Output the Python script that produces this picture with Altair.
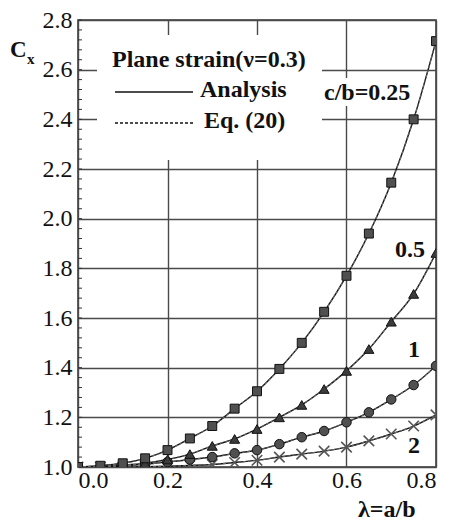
import altair as alt
import pandas as pd

# ---- data ----
lam = [0.00, 0.05, 0.10, 0.15, 0.20, 0.25, 0.30, 0.35, 0.40,
       0.45, 0.50, 0.55, 0.60, 0.65, 0.70, 0.75, 0.80]
cb_025 = [1.000, 1.005, 1.015, 1.035, 1.068, 1.115, 1.165, 1.235, 1.305,
          1.395, 1.500, 1.625, 1.770, 1.940, 2.145, 2.400, 2.715]
cb_05 = [1.000, 1.002, 1.007, 1.015, 1.030, 1.052, 1.085, 1.113, 1.153,
         1.200, 1.250, 1.314, 1.387, 1.475, 1.585, 1.697, 1.862]
cb_1 = [1.000, 1.001, 1.005, 1.011, 1.020, 1.030, 1.040, 1.055, 1.068,
        1.092, 1.120, 1.145, 1.180, 1.220, 1.272, 1.330, 1.407]
cb_2 = [1.000, 1.000, 1.000, 1.001, 1.003, 1.006, 1.010, 1.018, 1.027,
        1.040, 1.052, 1.064, 1.080, 1.105, 1.133, 1.165, 1.210]

series_names = ["0.25", "0.5", "1", "2"]
x_ticks = [0.0, 0.2, 0.4, 0.6, 0.8]
y_ticks = [1.0, 1.2, 1.4, 1.6, 1.8, 2.0, 2.2, 2.4, 2.6, 2.8]
y_minor = [round(1.0 + 0.04 * i, 2) for i in range(46)]

rows = []
for name, vals in zip(series_names, [cb_025, cb_05, cb_1, cb_2]):
    for x, y in zip(lam, vals):
        rows.append({"series": name, "lam": x, "cx": y})
df = pd.DataFrame(rows)

SERIF = "Liberation Serif"

xs = alt.Scale(domain=[0, 0.8], nice=False, zero=False)
ys = alt.Scale(domain=[1.0, 2.8], nice=False, zero=False)

axis_common = dict(labelFont=SERIF, labelFontSize=24, labelColor="#111",
                   domain=False, ticks=False, grid=True, gridColor="#4a4a4a", gridWidth=1.4)
X = alt.X("lam:Q", scale=xs, title=None,
          axis=alt.Axis(values=x_ticks, format=".1f", labelPadding=1, **axis_common))
Y = alt.Y("cx:Q", scale=ys, title=None,
          axis=alt.Axis(values=y_ticks, format=".1f", labelPadding=6, **axis_common))

base = alt.Chart(df)

lines = base.mark_line(color="#111", strokeWidth=1.4, interpolate="monotone", clip=True).encode(
    x=X, y=Y, detail="series:N")
dashed = base.mark_line(color="#666", strokeWidth=1.2, strokeDash=[3, 2],
                        interpolate="monotone", clip=True).encode(
    x=X, y=Y, detail="series:N")

def pts(name, **kw):
    return base.transform_filter(alt.datum.series == name).mark_point(clip=True, **kw).encode(x=X, y=Y)

sq = pts("0.25", shape="square", size=80, filled=True, fill="#505050", stroke="#111", strokeWidth=1, opacity=1)
tri = pts("0.5", shape="triangle-up", size=100, filled=True, fill="#3c3c3c", stroke="#111", strokeWidth=1, opacity=1)
cir = pts("1", shape="circle", size=90, filled=True, fill="#505050", stroke="#111", strokeWidth=1, opacity=1)
crs = pts("2", shape="M -1 -1 L 1 1 M 1 -1 L -1 1", size=110, filled=False,
          stroke="#555", strokeWidth=1.6, opacity=1)

one = alt.Data(values=[{}])

def box(x1, x2, y1, y2):
    return alt.Chart(one).mark_rect(color="white").encode(
        x=alt.value(x1), x2=alt.value(x2), y=alt.value(y1), y2=alt.value(y2))

def label(txt, x, y, size=24, bold=True, align="left"):
    return alt.Chart(one).mark_text(text=txt, font=SERIF, fontSize=size,
                                    fontWeight="bold" if bold else "normal",
                                    align=align, baseline="alphabetic", color="#111").encode(
        x=alt.value(x), y=alt.value(y))

def seg(x1, x2, y, dash=None):
    kw = {"strokeDash": dash} if dash else {}
    return alt.Chart(one).mark_rule(color="#111", strokeWidth=1.3, **kw).encode(
        x=alt.value(x1), x2=alt.value(x2), y=alt.value(y))

minor = alt.Chart(pd.DataFrame({"cx": y_minor})).mark_rule(color="#333", strokeWidth=1).encode(
    y=Y, x=alt.value(0), x2=alt.value(4))

layers = [
    minor,
    box(19, 244, 15, 140),
    box(244, 337, 58, 86),
    lines, dashed, crs, cir, tri, sq,
    label("Plane strain(ν=0.3)", 34, 47),
    seg(37, 115, 72),
    label("Analysis", 122, 77),
    seg(37, 115, 103, [3, 2]),
    label("Eq. (20)", 126, 108),
    label("c/b=0.25", 246, 80),
    label("0.5", 317, 237),
    label("1", 330, 337),
    label("2", 330, 433),
    label("λ=a/b", 280, 497),
    label("C", -68, 37, size=23),
    label("x", -51, 44, size=15),
]

chart = alt.layer(*layers).properties(
    width=358, height=447,
    autosize=alt.AutoSizeParams(type="none"),
    padding={"left": 78, "top": 20, "right": 16, "bottom": 56},
    background="white",
).configure_view(
    stroke="#333", strokeWidth=1.5
)

chart.save("out.html", embed_options={"renderer": "svg", "actions": False})
